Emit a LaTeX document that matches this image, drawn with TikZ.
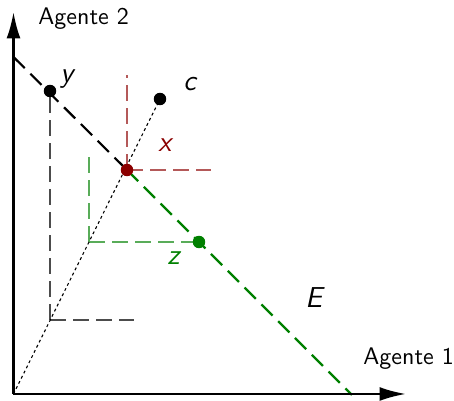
\documentclass[tikz,border=0pt]{standalone}
\usepackage{fontspec}
\usetikzlibrary{arrows.meta}
\definecolor{ptred}{RGB}{139,0,0}
\definecolor{ptgreen}{RGB}{0,128,0}
\begin{document}
\begin{tikzpicture}[x=0.4167pt,y=-0.4167pt,
  font=\sffamily,
  axis/.style={line width=1pt,-{Latex[length=11pt,width=5.8pt]}},
  budget/.style={line width=0.9pt,dash pattern=on 6.6pt off 3.3pt},
  guide/.style={line width=0.65pt,dash pattern=on 6.5pt off 3.1pt},
  ray/.style={line width=0.45pt,dash pattern=on 1.2pt off 1.2pt},
  pt/.style={circle,inner sep=0pt,minimum size=5.2pt},
  lab/.style={anchor=base west,inner sep=0pt,font=\sffamily\itshape\large}]
\useasboundingbox (0,0) rectangle (454,401);
% points
\coordinate (O) at (13.5,394);
\coordinate (ytip) at (13.5,12);
\coordinate (xtip) at (406,394);
\coordinate (Estart) at (13.5,57);
\coordinate (Eend) at (352,395);
\coordinate (ycorner) at (50,320);
\coordinate (yh) at (134,320);
\coordinate (xv) at (127,75);
\coordinate (xh) at (211,170);
\coordinate (zcorner) at (89,242);
\coordinate (zv) at (89,152);
% guides
\draw[guide,black!70] (ycorner) -- (50,91);
\draw[guide,black!70] (ycorner) -- (yh);
\draw[guide,ptred!65] (127,170) -- (xv);
\draw[guide,ptred!65] (127,170) -- (xh);
\draw[guide,ptgreen!65] (zcorner) -- (zv);
\draw[guide,ptgreen!65] (zcorner) -- (199,242);
% ray
\draw[ray] (O) -- (160,99);
% budget line
\draw[budget,black] (Estart) -- (127,170);
\draw[budget,ptgreen] (127,170) -- (Eend);
% axes
\draw[axis] (O) -- (ytip);
\draw[axis] (O) -- (xtip);
% dots
\node[pt,fill=black] (y) at (50,91) {};
\node[pt,fill=black] (c) at (160,99) {};
\node[pt,fill=ptred] (x) at (127,170) {};
\node[pt,fill=ptgreen] (z) at (199,242) {};
% labels
\node[anchor=base west,inner sep=0pt] (a2) at (38,25) {Agente 2};
\node[anchor=base west,inner sep=0pt] (a1) at (363,365) {Agente 1};
\node[lab] (ly) at (60,83) {y};
\node[lab] (lc) at (183,91) {c};
\node[lab,text=ptred] (lx) at (158,152) {x};
\node[lab,text=ptgreen] (lz) at (167,265) {z};
\node[lab] (lE) at (305,308) {E};
\end{tikzpicture}
\end{document}
